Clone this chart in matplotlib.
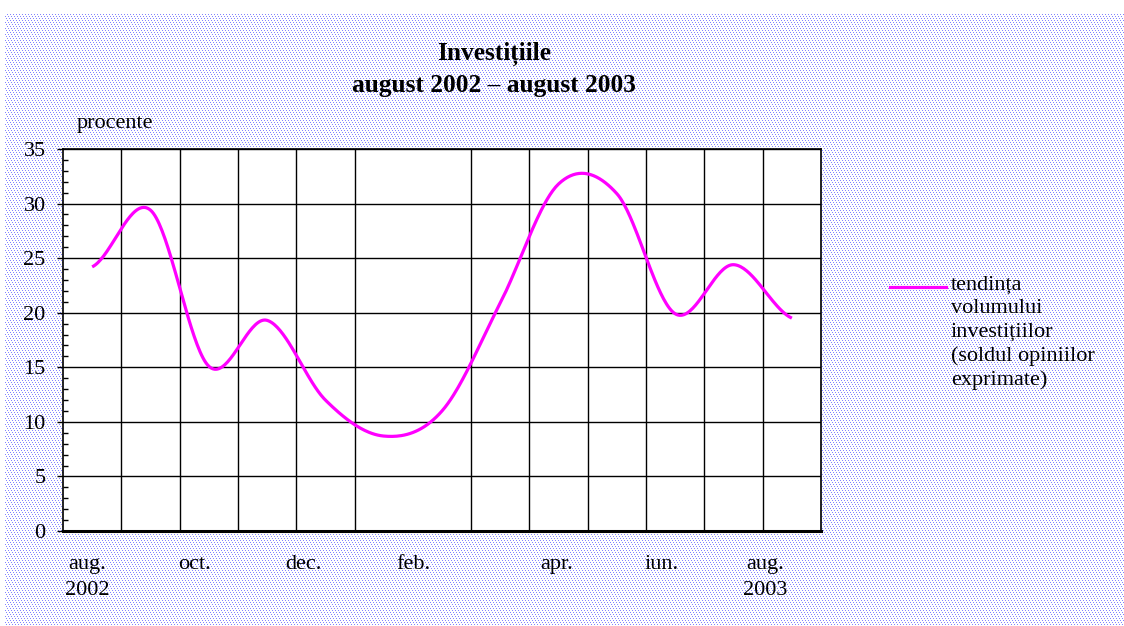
import numpy as np
import matplotlib.pyplot as plt
from matplotlib.lines import Line2D

# date: tendinta volumului investitiilor, aug. 2002 - aug. 2003
luni = ['aug', 'sep', 'oct', 'nov', 'dec', 'ian', 'feb',
        'mar', 'apr', 'mai', 'iun', 'iul', 'aug']
valori = [24.2, 29.4, 15.1, 19.3, 12.0, 8.7, 11.0,
          20.9, 31.8, 30.9, 19.9, 24.4, 19.5]

# etichete axa x (plasate ca in original)
etichete_x = ['aug.\n2002', 'oct.', 'dec.', 'feb.', 'apr.', 'iun.', 'aug.\n2003']
pozitii_x = [-0.09, 1.75, 3.62, 5.50, 7.96, 9.76, 11.54]

titlu1 = 'Investițiile'
titlu2 = 'august 2002 – august 2003'
legenda = 'tendința\nvolumului\ninvestițiilor\n(soldul opiniilor\nexprimate)'

plt.rcParams['font.family'] = ['Liberation Serif', 'DejaVu Serif']

W, H = 1124, 626
fig = plt.figure(figsize=(W / 100, H / 100), dpi=100)
fig.patch.set_facecolor('white')

# fundal punctat
fundal = np.ones((H, W, 3))
yy, xx = np.mgrid[0:H, 0:W]
puncte = (xx % 3 == (yy // 2) % 3) & (yy % 2 == 0) & (yy >= 14) & (xx >= 5)
fundal[puncte] = [0.52, 0.52, 1.0]
fig.figimage(fundal, xo=0, yo=0, origin='upper', zorder=-1)

ax = fig.add_axes([63 / W, 1 - 531 / H, 758 / W, 382 / H])
ax.set_facecolor('white')


# netezire tip Catmull-Rom (ca la graficele "smoothed")
def netezire(y, n=40):
    y = np.asarray(y, dtype=float)
    m = np.zeros_like(y)
    m[1:-1] = (y[2:] - y[:-2]) / 2
    m[0] = (y[1] - y[0]) / 2
    m[-1] = (y[-1] - y[-2]) / 2
    xs, ys = [], []
    for i in range(len(y) - 1):
        t = np.linspace(0, 1, n, endpoint=False)
        h00 = 2 * t**3 - 3 * t**2 + 1
        h10 = t**3 - 2 * t**2 + t
        h01 = -2 * t**3 + 3 * t**2
        h11 = t**3 - t**2
        xs.append(i + t)
        ys.append(h00 * y[i] + h10 * m[i] + h01 * y[i + 1] + h11 * m[i + 1])
    xs.append([len(y) - 1])
    ys.append([y[-1]])
    return np.concatenate(xs), np.concatenate(ys)


xs, ys = netezire(valori)
ax.plot(xs, ys, color='#ff00ff', lw=2.3, solid_capstyle='butt')

ax.set_xlim(-0.5, len(luni) - 0.5)
ax.set_ylim(0, 35)
ax.set_yticks(range(0, 36, 5))
ax.set_yticks(range(0, 36, 1), minor=True)
ax.set_xticks(pozitii_x)
ax.set_xticklabels(etichete_x, fontsize=16, linespacing=1.5)
ax.set_xticks(np.arange(0.5, len(luni) - 0.5, 1), minor=True)

ax.tick_params(axis='y', which='major', direction='out', length=4.5,
               width=1, labelsize=16, pad=8)
ax.tick_params(axis='y', which='minor', direction='in', length=3.5, width=1)
ax.tick_params(axis='x', which='both', length=0, pad=17)

ax.yaxis.grid(True, which='major', color='black', lw=1)
ax.xaxis.grid(True, which='minor', color='black', lw=1)
ax.set_axisbelow(True)

for s in ['left', 'top', 'right']:
    ax.spines[s].set_linewidth(1.2)
ax.spines['bottom'].set_linewidth(2.2)

# titlu si unitate
fig.text(494 / W, 1 - 60 / H, titlu1, ha='center', va='baseline',
         fontsize=18.3, fontweight='bold')
fig.text(494 / W, 1 - 92 / H, titlu2, ha='center', va='baseline',
         fontsize=18.3, fontweight='bold')
fig.text(77 / W, 1 - 128 / H, 'procente', ha='left', va='baseline', fontsize=16)

# legenda
fig.add_artist(Line2D([890 / W, 946 / W], [1 - 287 / H, 1 - 287 / H],
                      color='#ff00ff', lw=2.3, transform=fig.transFigure))
fig.text(951 / W, 1 - 276 / H, legenda, ha='left', va='top',
         fontsize=16, linespacing=1.3)

fig.savefig('out.png', dpi=100)
